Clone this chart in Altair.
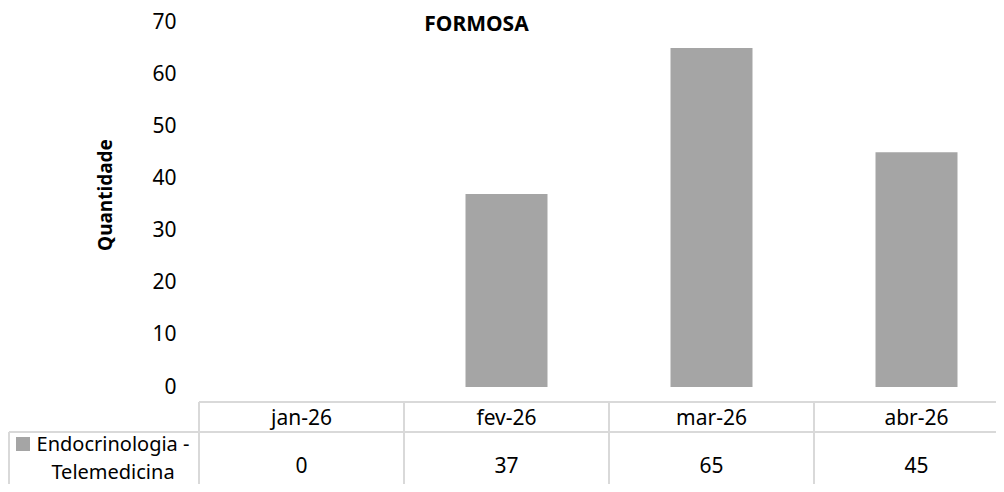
import altair as alt
import pandas as pd

# ---- data ----
MONTHS = ["jan-26", "fev-26", "mar-26", "abr-26"]
VALUES = [0, 37, 65, 45]
SERIES_LINES = ["Endocrinologia -", "Telemedicina"]
TITLE = "FORMOSA"
Y_TITLE = "Quantidade"
Y_TICKS = [0, 10, 20, 30, 40, 50, 60, 70]

BAR = "#A5A5A5"
GRID = "#D9D9D9"
TXT = "#000000"
FONT = "Noto Sans"

df = pd.DataFrame({"month": MONTHS, "value": VALUES})
one = pd.DataFrame({"k": [0]})

W, H = 797, 365      # visible plot area (svg must fit in the window)
FULL_W = 820          # table/category band range continues past the window edge

x_scale = alt.Scale(domain=MONTHS, paddingInner=0, paddingOuter=0, range=[0, FULL_W])


def xenc(**kw):
    return alt.X("month:N", scale=x_scale, axis=None, sort=MONTHS, **kw)


bars = alt.Chart(df).mark_bar(color=BAR, width=alt.RelativeBandSize(0.4)).encode(
    x=xenc(),
    y=alt.Y(
        "value:Q",
        scale=alt.Scale(domain=[0, 70], nice=False),
        axis=alt.Axis(
            values=Y_TICKS, title=Y_TITLE, grid=False, ticks=False, domain=False,
            labelPadding=23, labelFont=FONT, labelFontSize=21, labelColor=TXT,
            titleFont=FONT, titleFontSize=19, titleFontWeight="bold", titleColor=TXT,
            titleX=-94, titleY=172.5, titleAngle=-90, titleAlign="center",
            titleBaseline="middle",
        ),
    ),
)

header = alt.Chart(df).mark_text(
    font=FONT, fontSize=21, color=TXT, baseline="alphabetic", align="center"
).encode(x=xenc(), y=alt.value(403), text="month:N")

vals = alt.Chart(df).mark_text(
    font=FONT, fontSize=21, color=TXT, baseline="alphabetic", align="center"
).encode(x=xenc(), y=alt.value(451), text="value:Q")

vlines = alt.Chart(df).mark_rule(color=GRID, strokeWidth=2).encode(
    x=xenc(bandPosition=0), y=alt.value(380), y2=alt.value(480)
)

hline_top = alt.Chart(one).mark_rule(color=GRID, strokeWidth=2).encode(
    x=alt.value(0), x2=alt.value(FULL_W), y=alt.value(380)
)
hline_row = alt.Chart(one).mark_rule(color=GRID, strokeWidth=2).encode(
    x=alt.value(-190), x2=alt.value(FULL_W), y=alt.value(410)
)
vline_leg = alt.Chart(one).mark_rule(color=GRID, strokeWidth=2).encode(
    x=alt.value(-190), y=alt.value(410), y2=alt.value(480)
)

leg_sq = alt.Chart(one).mark_square(size=196, color=BAR, opacity=1, filled=True).encode(
    x=alt.value(-176), y=alt.value(422)
)
leg_t1 = alt.Chart(one).mark_text(
    text=SERIES_LINES[0], font=FONT, fontSize=20, color=TXT, baseline="alphabetic", align="center"
).encode(x=alt.value(-86), y=alt.value(429))
leg_t2 = alt.Chart(one).mark_text(
    text=SERIES_LINES[1], font=FONT, fontSize=20, color=TXT, baseline="alphabetic", align="center"
).encode(x=alt.value(-86), y=alt.value(457))

title = alt.Chart(one).mark_text(
    text=TITLE, font=FONT, fontSize=21, fontWeight="bold", color=TXT,
    baseline="alphabetic", align="center"
).encode(x=alt.value(277.5), y=alt.value(8.5))

chart = alt.layer(
    vlines, hline_top, hline_row, vline_leg, bars, header, vals, leg_sq, leg_t1, leg_t2, title
).properties(
    width=W, height=H,
    autosize=alt.AutoSizeParams(type="none"),
    padding={"left": 191, "top": 14, "right": 0, "bottom": 97},
    background="white",
).configure_view(stroke=None)

chart.save("out.html", embed_options={"renderer": "svg", "actions": False})
